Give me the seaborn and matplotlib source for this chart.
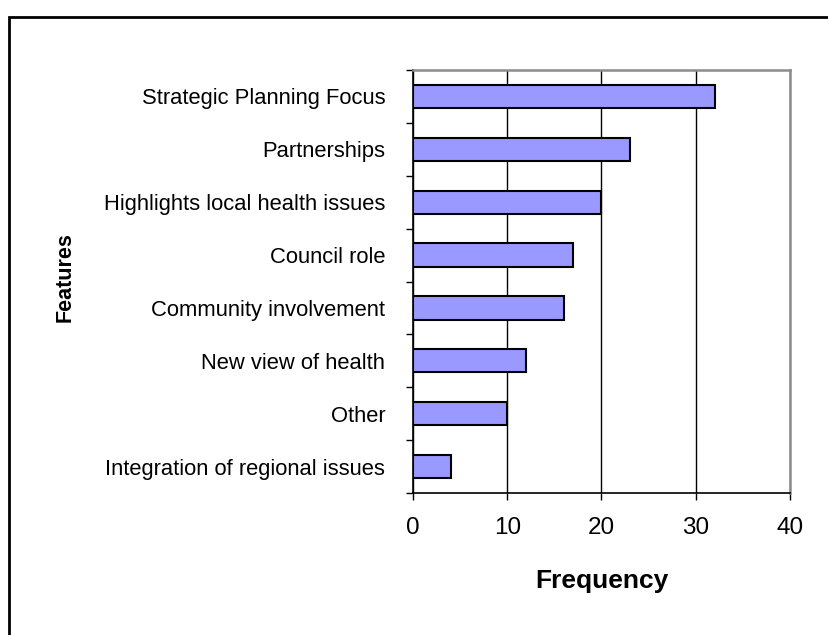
import matplotlib
matplotlib.use("Agg")
import matplotlib.pyplot as plt
import seaborn as sns
import pandas as pd
from matplotlib.patches import Rectangle
from matplotlib.ticker import FixedLocator

features = [
    "Strategic Planning Focus",
    "Partnerships",
    "Highlights local health issues",
    "Council role",
    "Community involvement",
    "New view of health",
    "Other",
    "Integration of regional issues",
]
frequency = [32, 23, 20, 17, 16, 12, 10, 4]
x_ticks = [0, 10, 20, 30, 40]

df = pd.DataFrame({"Features": features, "Frequency": frequency})

sns.set_theme(style="white")
plt.rcParams["font.family"] = ["Liberation Sans", "DejaVu Sans"]

fig = plt.figure(figsize=(8.29, 6.35), dpi=100)
ax = fig.add_axes([413 / 829, 1 - 493 / 635, 377 / 829, 423 / 635])

sns.barplot(data=df, y="Features", x="Frequency", orient="h", ax=ax,
            color="#9999FF", edgecolor="black", linewidth=1.5, width=0.44,
            saturation=1, order=features)

ax.set_xlim(0, 40)
ax.set_ylim(len(features) - 0.5, -0.5)
ax.set_xticks(x_ticks)
ax.set_xticklabels([str(t) for t in x_ticks], fontsize=17.5)
ax.xaxis.grid(True, color="black", linewidth=1)
ax.set_axisbelow(True)

# y ticks: labels at centres, tick marks at boundaries
ax.tick_params(axis="y", which="major", length=0, pad=20, labelsize=15.8, colors="black")
ax.yaxis.set_minor_locator(FixedLocator([i - 0.5 for i in range(len(features) + 1)]))
ax.tick_params(axis="y", which="minor", left=True, length=5, width=1, color="black", direction="out")
ax.tick_params(axis="x", which="major", bottom=True, length=5, width=1, color="black",
               direction="out", pad=12, colors="black")

for side in ["left", "bottom"]:
    ax.spines[side].set_color("black")
    ax.spines[side].set_linewidth(1.2)
for side in ["top", "right"]:
    ax.spines[side].set_color("#8c8c8c")
    ax.spines[side].set_linewidth(1.8)

ax.set_xlabel("Frequency", fontsize=19, fontweight="bold", color="black")
ax.xaxis.set_label_coords(0.501, -(581 - 493) / 423)
ax.xaxis.label.set_va("center")
ax.set_ylabel("Features", fontsize=15.5, fontweight="bold", color="black")
ax.yaxis.set_label_coords((65 - 413) / 377, (493 - 277) / 423)
ax.yaxis.label.set_va("center")

# figure border (extends beyond the right and bottom edges)
fig.patches.append(Rectangle((9 / 829, -0.1), 1.2, 1 - 17 / 635 + 0.1,
                             transform=fig.transFigure, fill=False,
                             edgecolor="black", linewidth=2, clip_on=False))

fig.savefig("out.png", dpi=100)
